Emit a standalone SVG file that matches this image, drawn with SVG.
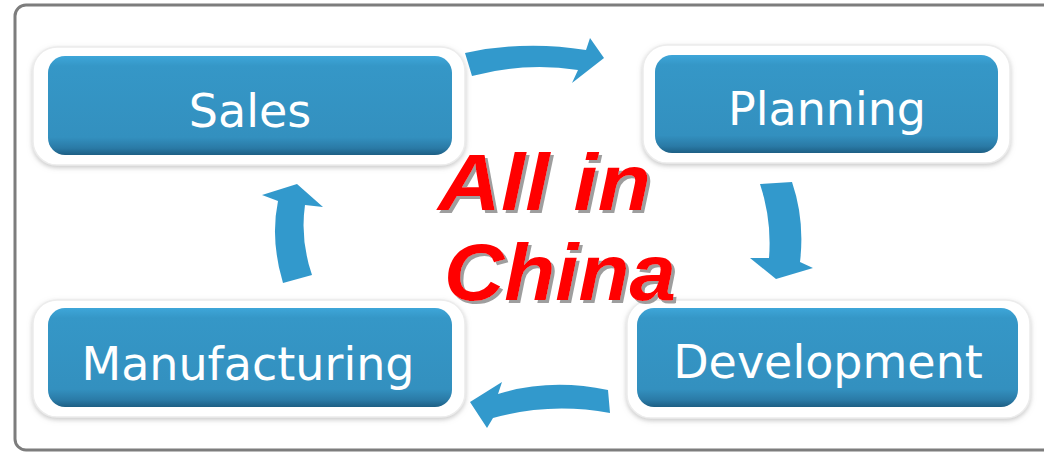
<svg xmlns="http://www.w3.org/2000/svg" width="1044" height="455" viewBox="0 0 1044 455">
  <defs>
    <linearGradient id="boxGrad" x1="0" y1="0" x2="0" y2="1">
      <stop offset="0" stop-color="#3ea6d9"/>
      <stop offset="0.1" stop-color="#3597c7"/>
      <stop offset="0.82" stop-color="#3390bf"/>
      <stop offset="0.93" stop-color="#2a7aa6"/>
      <stop offset="1" stop-color="#1d5f84"/>
    </linearGradient>
    <filter id="haloShadow" x="-10%" y="-20%" width="120%" height="140%">
      <feGaussianBlur in="SourceAlpha" stdDeviation="2.5"/>
      <feOffset dx="0" dy="2" result="b"/>
      <feFlood flood-color="#9a9a9a" flood-opacity="0.55"/>
      <feComposite in2="b" operator="in"/>
      <feMerge><feMergeNode/><feMergeNode in="SourceGraphic"/></feMerge>
    </filter>
    <filter id="textShadow" x="-10%" y="-20%" width="120%" height="140%">
      <feOffset in="SourceAlpha" dx="3" dy="3" result="o"/>
      <feFlood flood-color="#9e9e9e"/>
      <feComposite in2="o" operator="in"/>
      <feMerge><feMergeNode/><feMergeNode in="SourceGraphic"/></feMerge>
    </filter>
    <filter id="soft" x="-10%" y="-10%" width="120%" height="120%">
      <feGaussianBlur stdDeviation="0.6"/>
    </filter>
  </defs>
  <style>
    .halo { fill: #ffffff; stroke: #ececec; stroke-width: 1.5; filter: url(#haloShadow); }
    .box { fill: url(#boxGrad); }
    .label { font-family: "DejaVu Sans", "Liberation Sans", sans-serif; font-size: 46px; fill: #ffffff; text-anchor: middle; }
    .arrow { fill: #3399cc; filter: url(#soft); }
    .big { font-family: "Liberation Sans", Arial, sans-serif; font-size: 80px; font-weight: bold; font-style: italic; fill: #ff0000; filter: url(#textShadow); }
  </style>

  <rect width="1044" height="455" fill="#ffffff"/>
  <rect x="15" y="5" width="1060" height="445" rx="11" fill="#ffffff" stroke="#7d7d7d" stroke-width="3"/>

  <g id="connectors">
    <path class="arrow" d="M465,53 Q525,40 586,50 L590,38 L604,58 L572,83 L578,70 Q525,62 472,76 Z"/>
    <path class="arrow" d="M760,184 L792,182 Q805,220 800,262 L813,268 L776,279 L750,258 L769,258 Q772,220 760,184 Z"/>
    <path class="arrow" d="M608,390 Q550,378 498,394 L502,382 L470,402 L487,428 L493,418 Q550,402 610,413 Z"/>
    <path class="arrow" d="M283,283 Q270,240 278,201 L262,195 L297,184 L323,207 L305,205 Q300,240 312,275 Z"/>
  </g>

  <g id="node-sales">
    <rect class="halo" x="33" y="47" width="432" height="118" rx="24"/>
    <rect class="box" x="48" y="56" width="404" height="99" rx="17"/>
    <text class="label" x="250" y="127">Sales</text>
  </g>

  <g id="node-planning">
    <rect class="halo" x="643" y="45" width="367" height="118" rx="24"/>
    <rect class="box" x="655" y="55" width="343" height="98" rx="17"/>
    <text class="label" x="827" y="125">Planning</text>
  </g>

  <g id="node-manufacturing">
    <rect class="halo" x="33" y="300" width="432" height="117" rx="24"/>
    <rect class="box" x="48" y="308" width="404" height="99" rx="17"/>
    <text class="label" x="248" y="380">Manufacturing</text>
  </g>

  <g id="node-development">
    <rect class="halo" x="627" y="300" width="403" height="118" rx="24"/>
    <rect class="box" x="637" y="308" width="381" height="99" rx="17"/>
    <text class="label" x="828" y="378">Development</text>
  </g>

  <g id="title">
    <text class="big" x="438" y="210" textLength="213" lengthAdjust="spacingAndGlyphs">All in</text>
    <text class="big" x="444" y="300" textLength="232" lengthAdjust="spacingAndGlyphs">China</text>
  </g>
</svg>
